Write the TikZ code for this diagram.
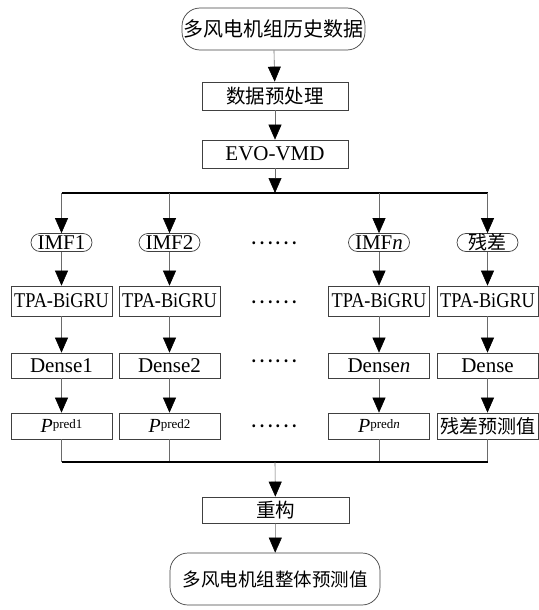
\documentclass[tikz,border=0pt]{standalone}
\usepackage{fontspec}
\setmainfont{Liberation Serif}
\newfontfamily\cjk{Noto Sans CJK SC}
\newfontfamily\narrowserif{Liberation Serif}[FakeStretch=0.87]
\usetikzlibrary{arrows.meta,positioning}
\definecolor{boxgray}{HTML}{404040}
\definecolor{linegray}{HTML}{6A6A6A}

\begin{document}
\begin{tikzpicture}[x=1pt, y=-1pt,
    box/.style={draw=boxgray, line width=0.7pt, minimum width=101pt, minimum height=30pt,
                inner sep=0pt, font=\fontsize{21}{22}\selectfont, align=center},
    pill/.style={box, rounded corners=9pt, minimum width=61pt, minimum height=18pt},
    endnode/.style={box, rounded corners=18pt},
    tpabox/.style={box, font=\fontsize{21}{22}\narrowserif},
    arr/.style={draw=linegray, line width=0.6pt, -{Triangle[length=15pt, width=13pt, black]}},
    conn/.style={draw=linegray, line width=0.6pt},
    bus/.style={draw=black, line width=1.6pt},
    dots/.style={font=\fontsize{22}{22}\selectfont\cjk, inner sep=0pt}
]
\useasboundingbox (0,0) rectangle (538,610);

% input and decomposition
\node[endnode, minimum width=183pt, minimum height=42pt] (hist) at (273.5,29) {\fontsize{20}{20}\selectfont\cjk 多风电机组历史数据};
\node[box, minimum width=146pt, minimum height=28pt] (prep) at (275,96) {\fontsize{19.5}{20}\selectfont\cjk 数据预处理};
\node[box, minimum width=146pt, minimum height=28pt] (evo) at (275,154) {EVO-VMD};

\coordinate (split) at (275,193);
\coordinate (s1) at (61.5,193);
\coordinate (s2) at (169.5,193);
\coordinate (s3) at (379,193);
\coordinate (s4) at (487.5,193);

% components
\node[pill] (imf1) at (61.5,242.5) {IMF1};
\node[pill] (imf2) at (169.5,242.5) {IMF2};
\node[pill] (imfn) at (379,242.5) {IMF\textit{n}};
\node[pill] (res) at (487.5,242.5) {\fontsize{19}{19}\selectfont\cjk 残差};

\node[tpabox] (tpa1) at (61.5,301) {TPA-BiGRU};
\node[tpabox] (tpa2) at (169.5,301) {TPA-BiGRU};
\node[tpabox] (tpan) at (379,301) {TPA-BiGRU};
\node[tpabox] (tpar) at (487.5,301) {TPA-BiGRU};

\node[box, minimum height=25pt] (dense1) at (61.5,365.5) {Dense1};
\node[box, minimum height=25pt] (dense2) at (169.5,365.5) {Dense2};
\node[box, minimum height=25pt] (densen) at (379,365.5) {Dense\textit{n}};
\node[box, minimum height=25pt] (denser) at (487.5,365.5) {Dense};

\node[box, minimum height=26pt] (pred1) at (61.5,426) {{\fontsize{20}{20}\selectfont\itshape P}\raisebox{4pt}{\fontsize{13}{13}\selectfont pred1}};
\node[box, minimum height=26pt] (pred2) at (169.5,426) {{\fontsize{20}{20}\selectfont\itshape P}\raisebox{4pt}{\fontsize{13}{13}\selectfont pred2}};
\node[box, minimum height=26pt] (predn) at (379,426) {{\fontsize{20}{20}\selectfont\itshape P}\raisebox{4pt}{\fontsize{13}{13}\selectfont pred\textit{n}}};
\node[box, minimum height=26pt] (predr) at (487.5,426) {\fontsize{19}{19}\selectfont\cjk 残差预测值};

\node[dots] (dot1) at (274,243) {……};
\node[dots] (dot2) at (274,302) {……};
\node[dots] (dot3) at (274,361) {……};
\node[dots] (dot4) at (274,426) {……};

% reconstruction
\coordinate (m1) at (61.5,462);
\coordinate (m2) at (169.5,462);
\coordinate (m3) at (379,462);
\coordinate (m4) at (487.5,462);
\coordinate (merge) at (275,462);

\node[box, minimum width=147pt, minimum height=26pt] (rec) at (275.5,510) {\fontsize{19.5}{20}\selectfont\cjk 重构};
\node[endnode, minimum width=210pt, minimum height=52pt] (total) at (275,579) {\fontsize{18.5}{20}\selectfont\cjk 多风电机组整体预测值};

\draw[arr] (hist) -- (prep);
\draw[arr] (prep) -- (evo);
\draw[arr] (evo) -- (split);
\draw[bus] (s1) -- (s4);
\draw[arr] (s1) -- (imf1);
\draw[arr] (s2) -- (imf2);
\draw[arr] (s3) -- (imfn);
\draw[arr] (s4) -- (res);

\draw[arr] (imf1) -- (tpa1);
\draw[arr] (imf2) -- (tpa2);
\draw[arr] (imfn) -- (tpan);
\draw[arr] (res) -- (tpar);
\draw[arr] (tpa1) -- (dense1);
\draw[arr] (tpa2) -- (dense2);
\draw[arr] (tpan) -- (densen);
\draw[arr] (tpar) -- (denser);
\draw[arr] (dense1) -- (pred1);
\draw[arr] (dense2) -- (pred2);
\draw[arr] (densen) -- (predn);
\draw[arr] (denser) -- (predr);

\draw[conn] (pred1) -- (m1);
\draw[conn] (pred2) -- (m2);
\draw[conn] (predn) -- (m3);
\draw[conn] (predr) -- (m4);
\draw[bus] (m1) -- (m4);
\draw[arr] (merge) -- (rec);
\draw[arr] (rec) -- (total);
\end{tikzpicture}
\end{document}
